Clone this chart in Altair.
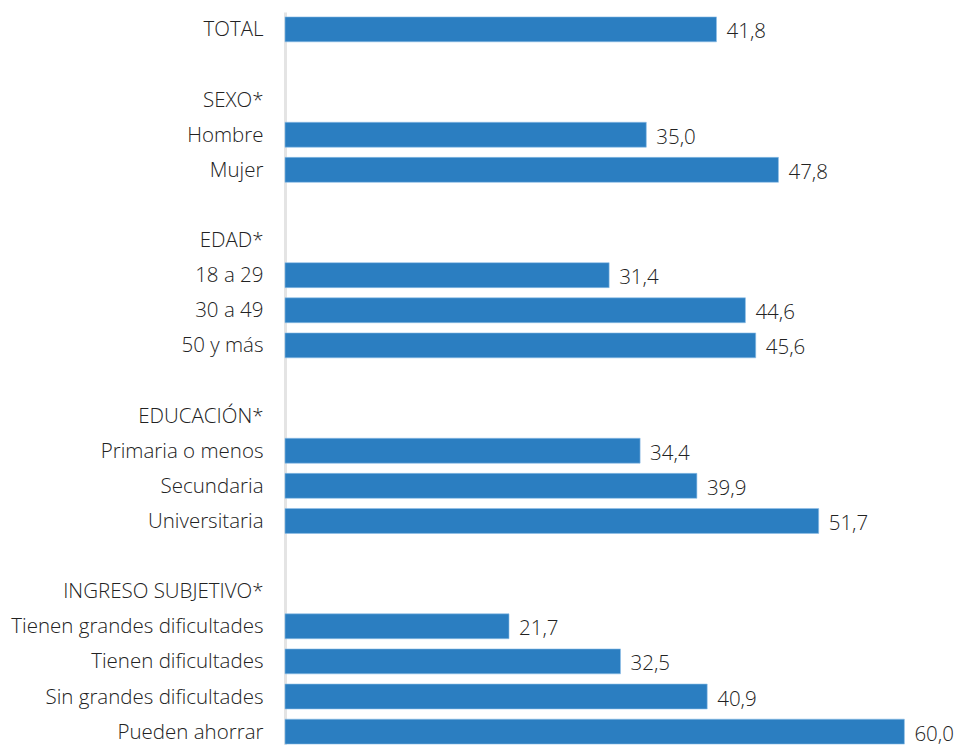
import altair as alt
import pandas as pd

categories = [
    "TOTAL", "_b1", "SEXO*", "Hombre", "Mujer", "_b2",
    "EDAD*", "18 a 29", "30 a 49", "50 y más", "_b3",
    "EDUCACIÓN*", "Primaria o menos", "Secundaria", "Universitaria", "_b4",
    "INGRESO SUBJETIVO*", "Tienen grandes dificultades", "Tienen dificultades",
    "Sin grandes dificultades", "Pueden ahorrar",
]
bar_categories = [
    "TOTAL", "Hombre", "Mujer", "18 a 29", "30 a 49", "50 y más",
    "Primaria o menos", "Secundaria", "Universitaria",
    "Tienen grandes dificultades", "Tienen dificultades",
    "Sin grandes dificultades", "Pueden ahorrar",
]
values = [41.8, 35.0, 47.8, 31.4, 44.6, 45.6, 34.4, 39.9, 51.7, 21.7, 32.5, 40.9, 60.0]

df = pd.DataFrame({"cat": bar_categories, "val": values})
df["lab"] = df["val"].map(lambda v: f"{v:.1f}".replace(".", ","))

FONT = "Open Sans"
FS = 20.5

y_scale = alt.Scale(domain=categories, paddingInner=0.29, paddingOuter=0.14)

y_enc = alt.Y(
    "cat:N",
    scale=y_scale,
    axis=alt.Axis(
        title=None,
        ticks=False,
        labelPadding=22,
        labelFontSize=FS,
        labelFont=FONT,
        labelFontWeight=300,
        labelLimit=500,
        labelColor="#222222",
        labelOffset=1,
        domainColor="#e4e4e4",
        domainWidth=3,
        labelExpr="indexof(datum.value, '_b') == 0 ? '' : (datum.value == 'TOTAL' ? 'TOTAL\u00a0\u00a0\u00a0\u00a0' : datum.value)",
    ),
)

x_enc = alt.X("val:Q", scale=alt.Scale(domain=[0, 65]), axis=None)

bars = alt.Chart(df).mark_bar(color="#2B7EC1", stroke="#8fc0e8", strokeWidth=0.6).encode(
    x=x_enc, y=y_enc
)

labels = alt.Chart(df).mark_text(
    align="left", baseline="middle", dx=10, dy=3, fontSize=FS, font=FONT,
    fontWeight=300, color="#222222"
).encode(x=x_enc, y=alt.Y("cat:N", scale=y_scale), text="lab:N")

chart = (bars + labels).properties(
    width=671,
    height=737,
    autosize=alt.AutoSizeParams(type="none"),
    padding={"left": 277, "top": 4, "right": 0, "bottom": 0},
).configure_view(stroke=None, fill="white")

chart.save("out.html", embed_options={"renderer": "svg", "actions": False})
